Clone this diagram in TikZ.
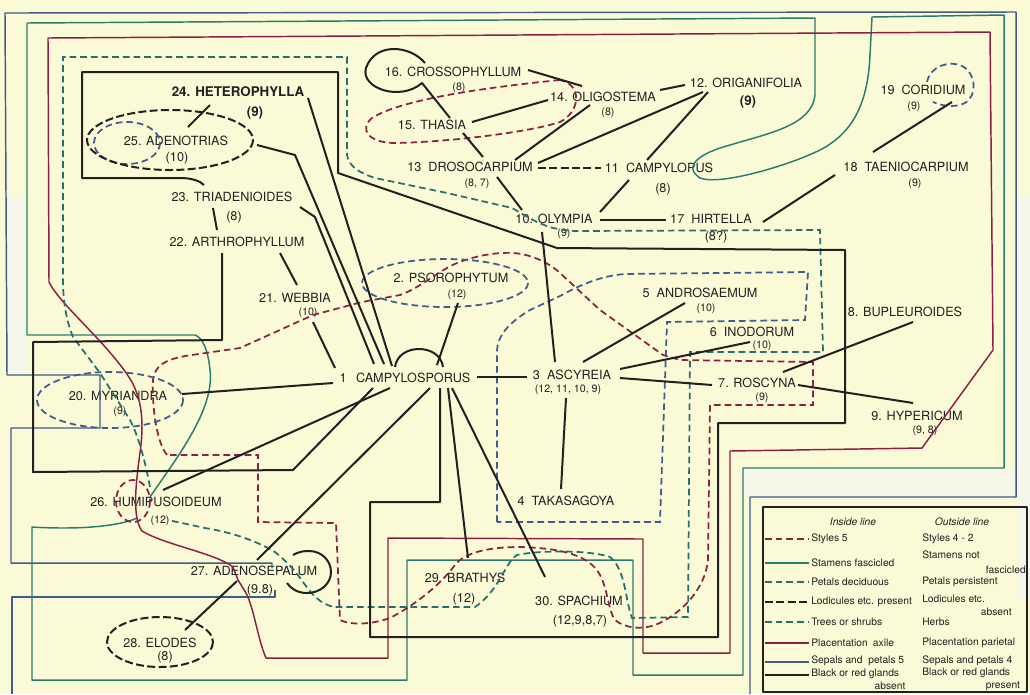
\documentclass[tikz,border=0pt]{standalone}
\usepackage{fontspec}
\setmainfont{TeX Gyre Heros}
\usetikzlibrary{calc}
\definecolor{bgc}{RGB}{250,250,214}
\definecolor{inkc}{RGB}{34,32,34}
\definecolor{rdc}{RGB}{140,32,68}
\definecolor{tlc}{RGB}{42,124,112}
\definecolor{tdc}{RGB}{38,110,112}
\definecolor{blc}{RGB}{62,92,140}
\definecolor{palec}{RGB}{244,247,234}
\begin{document}
\begin{tikzpicture}[x=0.75pt,y=-0.75pt,
  blk/.style={draw=inkc, line width=1.5pt, line join=round},
  blkd/.style={draw=inkc, line width=1.5pt, dash pattern=on 6pt off 2.5pt},
  rds/.style={draw=rdc, line width=1.1pt, line join=round},
  rdd/.style={draw=rdc, line width=1.3pt, dash pattern=on 5pt off 3pt},
  tls/.style={draw=tlc, line width=1.1pt, line join=round},
  tld/.style={draw=tdc, line width=1.3pt, dash pattern=on 5pt off 3pt},
  bls/.style={draw=blc, line width=1.1pt, line join=round},
  bld/.style={draw=blc, line width=1.3pt, dash pattern=on 5pt off 3pt},
  lab/.style={font=\fontsize{9.5}{11}\selectfont, text=inkc, inner sep=0pt},
  labb/.style={font=\bfseries\fontsize{10}{12}\selectfont, text=inkc, inner sep=0pt},
  num/.style={font=\fontsize{8}{10}\selectfont, text=inkc, inner sep=0pt},
  numl/.style={font=\fontsize{9.5}{11}\selectfont, text=inkc, inner sep=0pt},
  numb/.style={font=\bfseries\fontsize{10}{12}\selectfont, text=inkc, inner sep=0pt},
  leg/.style={font=\fontsize{7.7}{9}\selectfont, text=inkc, inner sep=0pt, anchor=west},
  legr/.style={font=\fontsize{7.7}{9}\selectfont, text=inkc, inner sep=0pt, anchor=east},
  legi/.style={font=\itshape\fontsize{7.7}{9}\selectfont, text=inkc, inner sep=0pt}
]
\fill[bgc] (0,0) rectangle (1030,694);
\useasboundingbox (0,0) rectangle (1030,694);
% pale strips
\fill[palec] (8,197) rectangle (27,375);
\fill[palec] (1017,195) rectangle (1030,600);
\fill[palec] (744,469) rectangle (1016,497);

% ---------- label nodes ----------
\node[lab] (n16) at (453,72) {16. CROSSOPHYLLUM};
\node[num] (n16n) at (459,88) {(8)};
\node[lab] (n15) at (432,125) {15. THASIA};
\node[lab] (n14) at (603,97) {14. OLIGOSTEMA};
\node[num] (n14n) at (608,113) {(8)};
\node[lab] (n13) at (470,167) {13\ \ DROSOCARPIUM};
\node[num] (n13n) at (477,184) {(8, 7)};
\node[lab] (n12) at (746,83) {12. ORIGANIFOLIA};
\node[numb] (n12n) at (748,102) {(9)};
\node[lab] (n11) at (659,168) {11\ \ CAMPYLOPUS};
\node[numl] (n11n) at (663,189) {(8)};
\node[lab] (n10) at (554,219) {10. OLYMPIA};
\node[num] (n10n) at (564,234) {(9)};
\node[lab] (n17) at (711,219) {17\ \ HIRTELLA};
\node[numl] (n17n) at (716,237) {(8?)};
\node[lab] (n19) at (923,90) {19\ \ CORIDIUM};
\node[num] (n19n) at (914,107) {(9)};
\node[lab] (n18) at (906,167) {18\ \ TAENIOCARPIUM};
\node[num] (n18n) at (915,184) {(9)};
\node[labb] (n24) at (238,92) {24. HETEROPHYLLA};
\node[numb] (n24n) at (255,113) {(9)};
\node[lab] (n25) at (176,141) {25. ADENOTRIAS};
\node[numl] (n25n) at (177,158) {(10)};
\node[lab] (n23) at (232,197) {23. TRIADENIOIDES};
\node[numl] (n23n) at (234,217) {(8)};
\node[lab] (n22) at (237,242) {22. ARTHROPHYLLUM};
\node[lab] (n21) at (295,298) {21. WEBBIA};
\node[num] (n21n) at (308,313) {(10)};
\node[lab] (n2) at (451,278) {2. PSOROPHYTUM};
\node[num] (n2n) at (457,295) {(12)};
\node[lab] (n1) at (405,378) {1\hspace{7pt}CAMPYLOSPORUS};
\node[lab] (n3) at (572,375) {3\ \ ASCYREIA};
\node[num] (n3n) at (568,390) {(12, 11, 10, 9)};
\node[lab] (n5) at (700,293) {5\ \ ANDROSAEMUM};
\node[num] (n5n) at (706,309) {(10)};
\node[lab] (n6) at (752,332) {6\ \ INODORUM};
\node[num] (n6n) at (762,346) {(10)};
\node[lab] (n8) at (905,312) {8. BUPLEUROIDES};
\node[lab] (n7) at (757,383) {7. ROSCYNA};
\node[num] (n7n) at (762,398) {(9)};
\node[lab] (n9) at (917,416) {9. HYPERICUM};
\node[num] (n9n) at (925,431) {(9, 8)};
\node[lab] (n4) at (566,501) {4\ \ TAKASAGOYA};
\node[lab] (n20) at (118,396) {20. MYRIANDRA};
\node[num] (n20n) at (120,412) {(9)};
\node[lab] (n26) at (156,502) {26. HUMIPUSOIDEUM};
\node[num] (n26n) at (160,521) {(12)};
\node[lab] (n27) at (254,571) {27. ADENOSEPALUM};
\node[numl] (n27n) at (260,590) {(9.8)};
\node[lab] (n28) at (160,643) {28. ELODES};
\node[numl] (n28n) at (165,657) {(8)};
\node[lab] (n29) at (465,578) {29. BRATHYS};
\node[numl] (n29n) at (464,599) {(12)};
\node[lab] (n30) at (579,601) {30. SPACHIUM};
\node[numl] (n30n) at (580,621) {(12,9,8,7)};

% ---------- outer solid boundaries ----------
\draw[bls] (272,568) -- (272,563) -- (11,563) -- (11,428) -- (100,428) -- (100,375) -- (7,375) -- (5,13) -- (1016,12) -- (1016,497) -- (750,497) -- (750,694);
\draw[bls] (275,590) -- (275,597) -- (12,597) -- (12,694);
\draw[tls] (150,497) .. controls (175,460) and (215,410) .. (210,370) .. controls (208,350) and (203,338) .. (195,335) -- (27,335) -- (27,23) -- (815,18) -- (815,95) .. controls (812,125) and (770,133) .. (730,145) .. controls (700,153) and (682,166) .. (700,178) .. controls (720,186) and (790,165) .. (820,150) .. controls (855,132) and (868,100) .. (870,55) -- (872,17) -- (1004,15) -- (1004,468) -- (743,468) -- (743,675) -- (633,675) -- (633,560) -- (407,560) -- (407,680) -- (32,680) -- (32,527) .. controls (80,530) and (120,526) .. (137,518);
\draw[rds] (48,38) -- (990,32) -- (993,350) -- (922,448) -- (730,451) -- (730,653) -- (643,653) -- (643,539) -- (388,538) -- (388,658) -- (266,658) .. controls (258,640) and (254,608) .. (246,593) -- (238,580) -- (233,567) .. controls (215,553) and (165,545) .. (142,531) .. controls (130,515) and (138,470) .. (141,445) .. controls (144,415) and (140,398) .. (132,382) .. controls (110,345) and (60,305) .. (49,282) -- cycle;

% ---------- dashed boundaries ----------
\draw[tld] (150,487) .. controls (145,460) and (138,435) .. (130,420) -- (100,373) -- (73,337) .. controls (66,320) and (63,300) .. (63,280) -- (63,57) -- (347,57) -- (347,155) .. controls (349,167) and (360,173) .. (375,178) -- (447,193) -- (512,208) .. controls (530,218) and (545,230) .. (575,231) -- (820,230) -- (823,352) -- (690,352) -- (688,617) -- (632,618) .. controls (625,600) and (626,570) .. (610,557) .. controls (590,550) and (540,550) .. (517,555) .. controls (505,562) and (500,590) .. (475,607) -- (335,607) .. controls (320,605) and (310,592) .. (303,582) .. controls (295,570) and (285,560) .. (275,552) .. controls (255,540) and (230,532) .. (205,528) -- (168,520);
\draw[rdd] (560,80) .. controls (480,88) and (400,100) .. (372,118) .. controls (358,130) and (370,143) .. (395,143) .. controls (450,142) and (530,132) .. (560,122) .. controls (580,112) and (583,85) .. (560,80);
\draw[rdd] (167,455) .. controls (155,440) and (152,400) .. (153,380) .. controls (155,365) and (165,360) .. (185,356) -- (240,348) -- (313,315) -- (362,302) -- (400,295) .. controls (420,288) and (440,270) .. (457,263) .. controls (475,256) and (495,252) .. (513,253) .. controls (530,254) and (548,262) .. (560,273) -- (600,310) -- (663,355) -- (680,360) -- (813,362) -- (813,405) -- (710,405) -- (708,560) .. controls (705,590) and (680,615) .. (655,625) .. controls (640,630) and (625,628) .. (615,620) .. controls (608,610) and (608,590) .. (600,575) .. controls (590,555) and (560,548) .. (520,547) .. controls (490,547) and (465,552) .. (455,565) .. controls (440,585) and (415,605) .. (390,618) .. controls (370,625) and (350,625) .. (340,620) -- (336,523) -- (258,522) -- (258,455) -- cycle;
\draw[rdd] (133,501) ellipse [x radius=17, y radius=21];
\draw[bld] (445,283) ellipse [x radius=83, y radius=24];
\draw[bld] (127,143) ellipse [x radius=33, y radius=21];
\draw[bld] (110,400) ellipse [x radius=73, y radius=28];
\draw[bld] (497,522) -- (497,352) .. controls (497,335) and (510,322) .. (530,310) -- (560,296) .. controls (580,285) and (600,276) .. (625,274) -- (808,272) -- (805,320) -- (667,322) -- (660,522) -- cycle;
\draw[bld] (927,82) .. controls (930,66) and (950,60) .. (962,66) .. controls (976,73) and (978,95) .. (965,103) .. controls (955,108) and (942,106) .. (933,102);
\draw[blkd] (170,140) ellipse [x radius=83, y radius=30];
\draw[blkd] (160,642) ellipse [x radius=53, y radius=25];
\draw[blkd] ($(n13.center)+(68,1)$) -- ($(n11.center)+(-58,0)$);

% ---------- black solid: glands absent ----------
\draw[blk] ($(n1.center)+(35,10)$) -- (440,502) -- (370,502) -- (370,637) -- (718,637) -- (718,423) -- (845,423) -- (845,250) -- (557,248) -- (338,173) -- (338,72) -- (82,72) -- (82,178) -- (180,178) .. controls (192,178) and (200,181) .. (204,185);
\draw[blk] ($(n22.center)+(-15,11)$) -- (222,340) -- (33,342) -- (33,472) -- (293,470) -- ($(n1.center)+(-32,10)$);
\draw[blk] (395,367) .. controls (398,343) and (440,343) .. (443,367);
\draw[blk] (293,555) .. controls (300,551) and (305,551) .. (309,551) .. controls (322,551) and (331,561) .. (331,572) .. controls (331,584) and (320,593) .. (307,593) .. controls (298,593) and (291,589) .. (287,583);

% ---------- connectors ----------
\draw[blk] ($(n16.center)+(75,-2)$) -- ($(n14.center)+(-21,-11)$);
\draw[blk] ($(n16.center)+(-28,-9)$) .. controls (410,45) and (375,42) .. (366,68) .. controls (360,88) and (400,102) .. (422,83) -- ($(n15.center)+(18,-7)$);
\draw[blk] ($(n15.center)+(40,-3)$) -- ($(n14.center)+(-55,3)$);
\draw[blk] ($(n15.center)+(31,8)$) -- ($(n13.center)+(13,-10)$);
\draw[blk] ($(n14.center)+(-13,8)$) -- ($(n13.center)+(45,-7)$);
\draw[blk] ($(n14.center)+(57,-7)$) -- ($(n12.center)+(-61,2)$);
\draw[blk] ($(n12.center)+(-43,9)$) -- ($(n13.center)+(68,-4)$);
\draw[blk] ($(n12.center)+(-38,9)$) -- ($(n11.center)+(-12,-8)$);
\draw[blk] ($(n13.center)+(27,10)$) -- ($(n10.center)+(-32,-9)$);
\draw[blk] ($(n11.center)+(-30,12)$) -- ($(n10.center)+(46,-7)$);
\draw[blk] ($(n10.center)+(46,1)$) -- ($(n17.center)+(-45,1)$);
\draw[blk] ($(n17.center)+(52,3)$) -- ($(n18.center)+(-71,8)$);
\draw[blk] ($(n18.center)+(-33,-15)$) -- ($(n19.center)+(29,12)$);
\draw[blk] ($(n10.center)+(-12,13)$) -- ($(n3.center)+(-17,-13)$);
\draw[blk] ($(n3.center)+(11,-13)$) -- ($(n5.center)+(-15,10)$);
\draw[blk] ($(n3.center)+(48,-6)$) -- ($(n6.center)+(-2,10)$);
\draw[blk] ($(n3.center)+(48,3)$) -- ($(n7.center)+(-45,2)$);
\draw[blk] ($(n7.center)+(41,2)$) -- ($(n9.center)+(-4,-13)$);
\draw[blk] ($(n7.center)+(26,-11)$) -- ($(n8.center)+(8,10)$);
\draw[blk] ($(n3.center)+(-6,23)$) -- ($(n4.center)+(-5,-12)$);
\draw[blk] ($(n1.center)+(72,-1)$) -- ($(n3.center)+(-45,2)$);
\draw[blk] ($(n1.center)+(32,-13)$) -- ($(n2.center)+(7,25)$);
\draw[blk] ($(n1.center)+(-70,-10)$) -- ($(n21.center)+(18,24)$);
\draw[blk] ($(n24.center)+(70,6)$) -- ($(n1.center)+(-13,-12)$);
\draw[blk] ($(n25.center)+(81,4)$) -- (295,155) -- ($(n1.center)+(-21,-14)$);
\draw[blk] ($(n23.center)+(68,10)$) -- (315,217) -- ($(n1.center)+(-31,-14)$);
\draw[blk] ($(n22.center)+(43,11)$) -- ($(n21.center)+(2,-13)$);
\draw[blk] ($(n23.center)+(-19,11)$) -- ($(n22.center)+(-20,-12)$);
\draw[blk] ($(n24.center)+(-28,13)$) -- ($(n25.center)+(12,-14)$);
\draw[blk] ($(n1.center)+(-72,5)$) -- ($(n20.center)+(64,-2)$);
\draw[blk] ($(n1.center)+(-15,10)$) -- ($(n26.center)+(7,-12)$);
\draw[blk] ($(n1.center)+(25,10)$) -- ($(n27.center)+(3,-11)$);
\draw[blk] ($(n27.center)+(-17,10)$) -- ($(n28.center)+(25,-13)$);
\draw[blk] ($(n1.center)+(43,10)$) -- ($(n29.center)+(3,-20)$);
\draw[blk] ($(n1.center)+(47,10)$) -- ($(n30.center)+(-34,-24)$);

% ---------- legend ----------
\draw[blk] (763,507) rectangle (1027,692);
\node[legi] (Lh1) at (853,522) {Inside line};
\node[legi] (Lh2) at (962,522) {Outside line};
\draw[rdd, line width=2pt] (765,539) -- (809,539);
\draw[tls, line width=2pt] (765,563) -- (809,563);
\draw[bld, draw=tdc!60!blc, line width=2pt] (765,582) -- (809,582);
\draw[blkd, line width=2pt] (765,602) -- (809,602);
\draw[tld, line width=2pt] (765,622) -- (809,622);
\draw[rds, line width=2pt] (765,643) -- (809,643);
\draw[bls, line width=2pt] (765,662) -- (809,662);
\draw[blk, line width=2pt] (765,675) -- (809,675);
\node[leg] (La1) at (811,539) {Styles 5};
\node[leg] (Lb1) at (922,539) {Styles 4 - 2};
\node[leg] (La2) at (811,563) {Stamens fascicled};
\node[leg] (Lb2) at (922,555) {Stamens not};
\node[legr] (Lc2) at (1026,570) {fascicled};
\node[leg] (La3) at (811,582) {Petals deciduous};
\node[leg] (Lb3) at (922,582) {Petals persistent};
\node[leg] (La4) at (811,602) {Lodicules etc. present};
\node[leg] (Lb4) at (922,599) {Lodicules etc.};
\node[legr] (Lc4) at (1012,612) {absent};
\node[leg] (La5) at (811,622) {Trees or shrubs};
\node[leg] (Lb5) at (922,622) {Herbs};
\node[leg] (La6) at (811,643) {Placentation\enspace axile};
\node[leg] (Lb6) at (922,643) {Placentation parietal};
\node[leg] (La7) at (811,661) {Sepals and \ petals 5};
\node[leg] (Lb7) at (922,661) {Sepals and petals 4};
\node[leg] (La8) at (811,674) {Black or red glands};
\node[leg, anchor=center] (Lc8) at (890,686) {absent};
\node[leg] (Lb8) at (922,673) {Black or red glands};
\node[leg, anchor=center] (Ld8) at (1003,686) {present};
\end{tikzpicture}
\end{document}
